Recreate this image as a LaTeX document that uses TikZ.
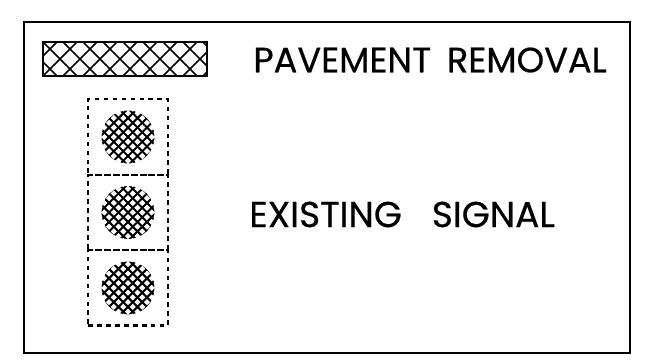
\documentclass[tikz,border=0pt]{standalone}
\usepackage{fontspec}
\setmainfont[FakeBold=0.5]{Poppins}
\usetikzlibrary{positioning}

\begin{document}
\begin{tikzpicture}[x=0.02cm, y=-0.02cm]
    \tikzset{
        frame/.style={rectangle, draw=black, line width=1.5pt, minimum width=12.12cm, minimum height=6.62cm},
        legendbar/.style={rectangle, draw=black, line width=1.6pt, minimum width=3.28cm, minimum height=0.68cm,
            path picture={
                \foreach \k in {-6,...,12} {
                    \draw [line width=0.9pt] ([xshift=\k*0.4cm]path picture bounding box.south west) -- ++(1cm,1cm);
                    \draw [line width=0.9pt] ([xshift=\k*0.4cm]path picture bounding box.north west) -- ++(1cm,-1cm);
                }
            }},
        signalbox/.style={rectangle, draw=black, dash pattern=on 2.7pt off 2.4pt, line width=1.4pt, outer sep=0pt, minimum width=1.6cm, minimum height=1.51cm},
        lamp/.style={circle, minimum size=1.06cm, inner sep=0pt,
            path picture={
                \foreach \k in {-8,...,8} {
                    \draw [line width=1.2pt] ([xshift=\k*0.19cm]path picture bounding box.center) ++(-1cm,-1cm) -- ++(2cm,2cm);
                    \draw [line width=1.2pt] ([xshift=\k*0.19cm]path picture bounding box.center) ++(-1cm,1cm) -- ++(2cm,-2cm);
                }
            }},
        legendtext/.style={font=\fontsize{20}{24}\selectfont, inner sep=0pt}
    }
    \useasboundingbox (0,0) rectangle (655,359);
    \node [frame] (border) at (327,187.5) {};
    \node [legendbar] (removal) at (125,59) {};
    \node [legendtext, anchor=west] (removaltext) at (253,60) {PAVEMENT\hspace{0.45em}REMOVAL};
    \node [signalbox] (top) at (128,137) {};
    \node [signalbox, below=0cm of top] (middle) {};
    \node [signalbox, below=0cm of middle] (bottom) {};
    \node [lamp] (lamptop) at (top.center) {};
    \node [lamp] (lampmiddle) at (middle.center) {};
    \node [lamp] (lampbottom) at (bottom.center) {};
    \node [legendtext, font=\fontsize{20.5}{24}\selectfont, anchor=west] (signaltext) at (249,214.5) {EXISTING\hspace{0.83em}SIGNAL};
\end{tikzpicture}
\end{document}
